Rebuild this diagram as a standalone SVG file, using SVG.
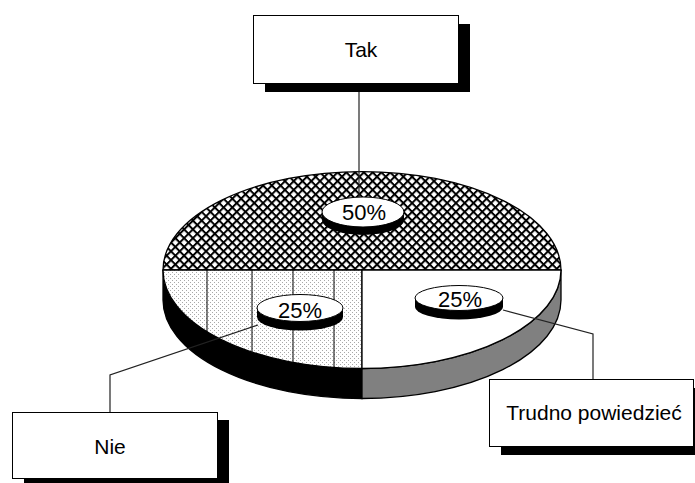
<svg xmlns="http://www.w3.org/2000/svg" width="695" height="483" viewBox="0 0 695 483">
<defs>
<pattern id="cross" patternUnits="userSpaceOnUse" width="6.2" height="6.2" patternTransform="rotate(45)">
<rect width="6.2" height="6.2" fill="#fff"/>
<rect x="0" y="0" width="2" height="6.2" fill="#000"/>
<rect x="0" y="0" width="6.2" height="2" fill="#000"/>
</pattern>
<pattern id="stip" patternUnits="userSpaceOnUse" width="4" height="4">
<rect width="4" height="4" fill="#fff"/>
<rect x="0" y="0" width="1" height="1" fill="#a8a8a8"/>
<rect x="2" y="2" width="1" height="1" fill="#a8a8a8"/>
</pattern>
<style>
.box{fill:#fff;stroke:#000;stroke-width:1}
.shadow{fill:#000}
.lbl{font-family:"Liberation Sans",Arial,sans-serif;font-size:21px;fill:#000;text-anchor:middle}
.pct{font-family:"Liberation Sans",Arial,sans-serif;font-size:22px;fill:#000;text-anchor:middle}
.edge{stroke:#000;stroke-width:1.3}
.lead{fill:none;stroke:#222;stroke-width:1.2}
.disc{fill:#fff;stroke:#000;stroke-width:1}
</style>
</defs>
<rect width="695" height="483" fill="#fff"/>

<g id="pie">
<path d="M163,270 L163,300 A199,98.5 0 0 0 362,398.5 L362,368.5 A199,98.5 0 0 1 163,270 Z" fill="#000" class="edge"/>
<path d="M362,368.5 L362,398.5 A199,98.5 0 0 0 561,300 L561,270 A199,98.5 0 0 1 362,368.5 Z" fill="#808080" class="edge"/>
<path d="M163,270 A199,98.5 0 0 1 561,270 Z" fill="url(#cross)" class="edge"/>
<path d="M362,270 L163,270 A199,98.5 0 0 0 362,368.5 Z" fill="url(#stip)" class="edge"/>
<path d="M362,270 L362,368.5 A199,98.5 0 0 0 561,270 Z" fill="#fff" class="edge"/>
<g stroke="#000" stroke-width="1">
<line x1="207" y1="270" x2="207" y2="332"/>
<line x1="252" y1="270" x2="252" y2="352"/>
<line x1="293" y1="270" x2="293" y2="362"/>
<line x1="334" y1="270" x2="334" y2="367"/>
</g>
</g>

<g id="connectors">
<path class="lead" d="M359,83 L359,198" stroke="#444"/>
<path class="lead" d="M110,412 L110,375 L258,325"/>
<path class="lead" d="M503,310 L593,334 L593,379"/>
</g>

<g id="label-50">
<path d="M322,212 L322,220 A41,15 0 0 0 404,220 L404,212 Z" fill="#000"/>
<ellipse class="disc" cx="363" cy="212" rx="41" ry="15"/>
<text class="pct" x="364" y="220">50%</text>
</g>
<g id="label-25-nie">
<path d="M257,308 L257,317 A43,13.5 0 0 0 343,317 L343,308 Z" fill="#000"/>
<ellipse class="disc" cx="300" cy="308" rx="43" ry="13.5"/>
<text class="pct" x="300" y="318">25%</text>
</g>
<g id="label-25-trudno">
<path d="M415,298 L415,307 A44,12.5 0 0 0 503,307 L503,298 Z" fill="#000"/>
<ellipse class="disc" cx="459" cy="298" rx="44" ry="12.5"/>
<text class="pct" x="460" y="307">25%</text>
</g>

<g id="tak">
<rect class="shadow" x="265" y="24" width="205" height="68"/>
<rect class="box" x="253.5" y="15.5" width="205" height="68"/>
<text class="lbl" x="361" y="57">Tak</text>
</g>
<g id="nie">
<rect class="shadow" x="24" y="420" width="205" height="66"/>
<rect class="box" x="12.5" y="412.5" width="205" height="66"/>
<text class="lbl" x="110" y="454">Nie</text>
</g>
<g id="trudno">
<rect class="shadow" x="501" y="388" width="204" height="67"/>
<rect class="box" x="489.5" y="379.5" width="204" height="67"/>
<text class="lbl" x="594" y="420">Trudno powiedzieć</text>
</g>
</svg>
